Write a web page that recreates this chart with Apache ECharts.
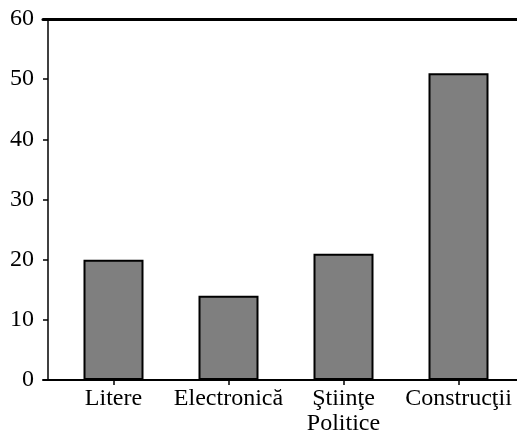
<!DOCTYPE html>
<html>
<head>
<meta charset="utf-8">
<script src="https://cdn.jsdelivr.net/npm/echarts@6/dist/echarts.min.js"></script>
<style>html,body{margin:0;padding:0;background:#fff}#c{width:517px;height:430px}</style>
</head>
<body>
<div id="c"></div>
<script>
const categories = ['Litere', 'Electronică', 'Ştiinţe\nPolitice', 'Construcţii'];
const values = [20, 14, 21, 51];
const yTicks = [0, 10, 20, 30, 40, 50, 60];

const font = 'Liberation Serif';
const chart = echarts.init(document.getElementById('c'), null, {renderer: 'canvas'});
chart.setOption({
  animation: false,
  backgroundColor: '#fff',
  grid: [
    {left: 56, right: 1, top: 19, bottom: 50, containLabel: false, outerBoundsMode: 'none'},
    {left: 43, right: 0, top: 19, bottom: 50, containLabel: false, outerBoundsMode: 'none'}
  ],
  xAxis: [
    {
      type: 'category', gridIndex: 0, data: categories, boundaryGap: true,
      axisLine: {show: true, lineStyle: {color: '#000', width: 2}},
      axisTick: {show: true, alignWithLabel: true, length: 5, lineStyle: {color: '#000', width: 1.5}},
      axisLabel: {color: '#000', fontFamily: font, fontSize: 24, margin: 6, lineHeight: 25, interval: 0}
    },
    {
      type: 'category', gridIndex: 1, data: ['a'], position: 'bottom',
      axisLine: {show: true, lineStyle: {color: '#000', width: 2}},
      axisTick: {show: false}, axisLabel: {show: false}
    },
    {
      type: 'category', gridIndex: 1, data: ['a'], position: 'top',
      axisLine: {show: true, lineStyle: {color: '#000', width: 3}},
      axisTick: {show: false}, axisLabel: {show: false}
    }
  ],
  yAxis: [
    {
      type: 'value', gridIndex: 0, min: yTicks[0], max: yTicks[yTicks.length - 1], interval: 10,
      offset: 8,
      axisLine: {show: true, lineStyle: {color: '#000', width: 1.5}},
      axisTick: {show: true, length: 5, lineStyle: {color: '#000', width: 1.5}},
      splitLine: {show: false},
      axisLabel: {color: '#000', fontFamily: font, fontSize: 24, margin: 14}
    },
    {
      type: 'value', gridIndex: 1, min: 0, max: 60, show: false
    }
  ],
  series: [{
    type: 'bar', xAxisIndex: 0, yAxisIndex: 0,
    data: values,
    barWidth: 60,
    itemStyle: {color: '#7f7f7f', borderColor: '#000', borderWidth: 2}
  }]
});
</script>
</body>
</html>
